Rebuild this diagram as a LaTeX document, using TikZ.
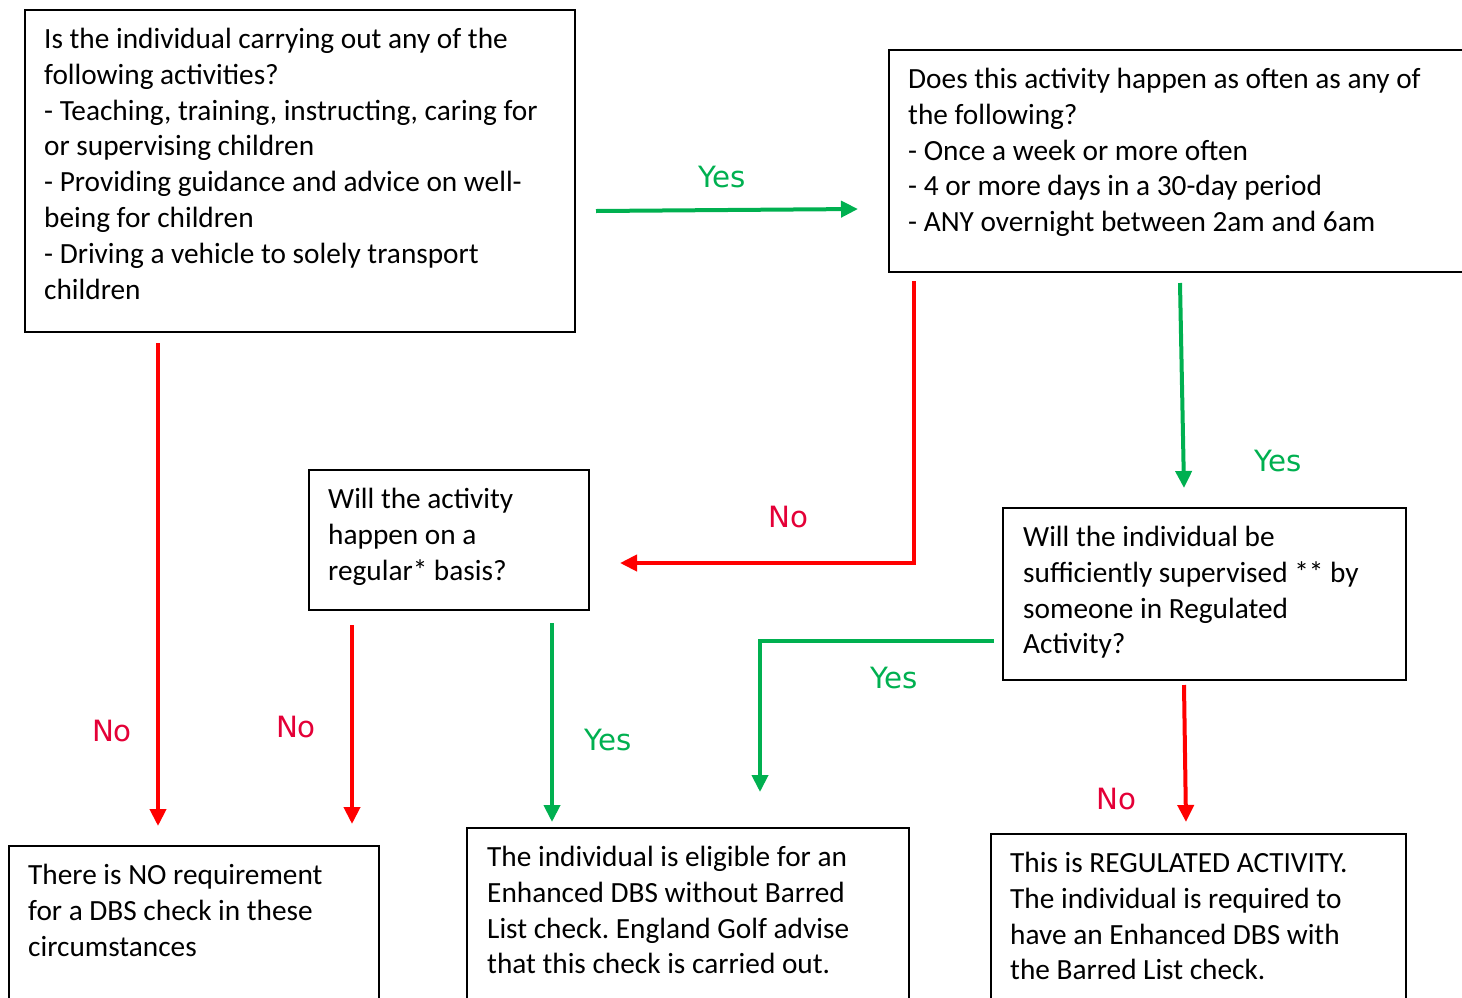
\documentclass[tikz,border=0pt]{standalone}
\usepackage{fontspec}
\setmainfont{Carlito}
\newfontfamily\lblfont{DejaVu Sans}
\usetikzlibrary{arrows.meta,calc}
\definecolor{arrgreen}{RGB}{0,176,80}
\definecolor{arrred}{RGB}{255,0,0}
\definecolor{nored}{RGB}{228,0,55}
\tikzset{
  box/.style={draw=black,line width=2pt,rectangle,inner sep=0pt,anchor=north west},
  txt/.style={anchor=north west,inner sep=0pt,align=left,font=\fontsize{29.3}{35.8}\selectfont\frenchspacing},
  garrow/.style={draw=arrgreen,line width=4pt,-{Triangle[length=17pt,width=16pt]}},
  rarrow/.style={draw=arrred,line width=4pt,-{Triangle[length=17pt,width=16pt]}},
  ylab/.style={text=arrgreen,inner sep=0pt,font=\lblfont\fontsize{29.3}{35}\selectfont},
  nlab/.style={text=nored,inner sep=0pt,font=\lblfont\fontsize{29.3}{35}\selectfont}
}
\begin{document}
\begin{tikzpicture}[x=1pt,y=-1pt]
\useasboundingbox (0,0) rectangle (1462,997);
\clip (0,0) rectangle (1462,997);
% boxes
\node[box,minimum width=550pt,minimum height=322pt] (b1) at (23.5,8.5) {};
\node[box,minimum width=600pt,minimum height=222pt] (b2) at (887.5,48.5) {};
\node[box,minimum width=280pt,minimum height=140pt] (b3) at (307.5,468.5) {};
\node[box,minimum width=403pt,minimum height=172pt] (b4) at (1001.5,506.5) {};
\node[box,minimum width=370pt,minimum height=180pt] (b5) at (7.5,844.5) {};
\node[box,minimum width=442pt,minimum height=190pt] (b6) at (465.5,826.5) {};
\node[box,minimum width=415pt,minimum height=190pt] (b7) at (989.5,832.5) {};
% texts
\node[txt] (t1) at ($(b1.north west)+(20.5,19.5)$) {Is the individual carrying out any of the\\following activities?\\- Teaching, training, instructing, caring for\\or supervising children\\- Providing guidance and advice on well-\\being for children\\- Driving a vehicle to solely transport\\children};
\node[txt] (t2) at ($(b2.north west)+(20.5,19.5)$) {Does this activity happen as often as any of\\the following?\\- Once a week or more often\\- 4 or more days in a 30-day period\\- ANY overnight between 2am and 6am};
\node[txt] (t3) at ($(b3.north west)+(20.5,19.5)$) {Will the activity\\happen on a\\regular* basis?};
\node[txt] (t4) at ($(b4.north west)+(21.5,19.5)$) {Will the individual be\\sufficiently supervised ** by\\someone in Regulated\\Activity?};
\node[txt] (t5) at ($(b5.north west)+(20.5,19.5)$) {There is NO requirement\\for a DBS check in these\\circumstances};
\node[txt] (t6) at ($(b6.north west)+(21.5,19.5)$) {The individual is eligible for an\\Enhanced DBS without Barred\\List check. England Golf advise\\that this check is carried out.};
\node[txt] (t7) at ($(b7.north west)+(20.5,19.5)$) {This is REGULATED ACTIVITY.\\The individual is required to\\have an Enhanced DBS with\\the Barred List check.};
% connector end points
\coordinate (a1s) at (596,211);
\coordinate (a1e) at (858,209);
\coordinate (a2s) at (914,281);
\coordinate (a2e) at (620,563);
\coordinate (a3s) at (1180,283);
\coordinate (a3e) at (1184,488);
\coordinate (a4s) at (994,641);
\coordinate (a4e) at (760,792);
\coordinate (a5s) at (1184,685);
\coordinate (a5e) at (1186,822);
\coordinate (a6s) at (158,343);
\coordinate (a6e) at (158,826);
\coordinate (a7s) at (352,625);
\coordinate (a7e) at (352,824);
\coordinate (a8s) at (552,623);
\coordinate (a8e) at (552,822);
% connectors
\draw[garrow] (a1s) -- (a1e);
\draw[rarrow] (a2s) |- (a2e);
\draw[garrow] (a3s) -- (a3e);
\draw[garrow] (a4s) -| (a4e);
\draw[rarrow] (a5s) -- (a5e);
\draw[rarrow] (a6s) -- (a6e);
\draw[rarrow] (a7s) -- (a7e);
\draw[garrow] (a8s) -- (a8e);
% labels
\node[ylab] (l1) at (722,177) {Yes};
\node[nlab] (l2) at (788,517) {No};
\node[ylab] (l3) at (1278,461) {Yes};
\node[ylab] (l4) at (894,678) {Yes};
\node[nlab] (l5) at (1116,799) {No};
\node[nlab] (l6) at (112,731) {No};
\node[nlab] (l7) at (296,727) {No};
\node[ylab] (l8) at (608,740) {Yes};
\end{tikzpicture}
\end{document}
